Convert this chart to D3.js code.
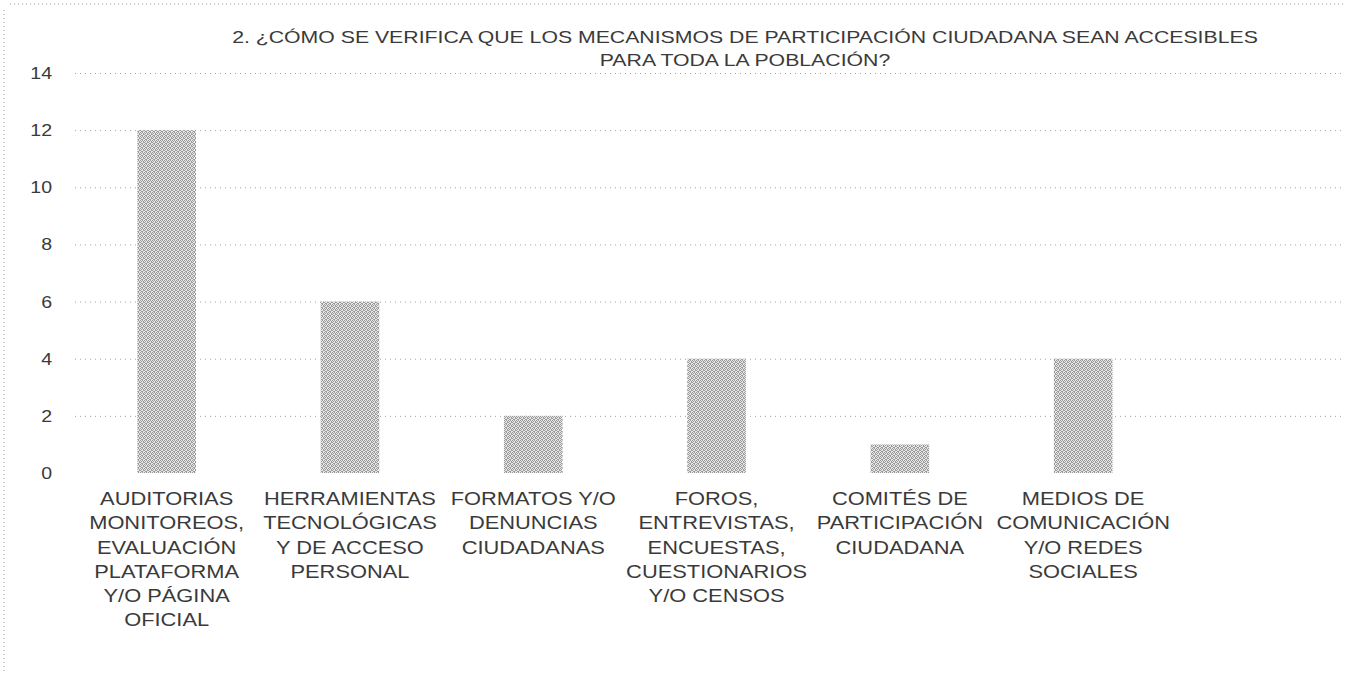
<!DOCTYPE html>
<html>
<head>
<meta charset="utf-8">
<script src="https://cdn.jsdelivr.net/npm/d3@7"></script>
<style>
  body { margin: 0; background: #fff; }
  svg text { font-family: "Liberation Sans", Arial, sans-serif; fill: #3a3a3a; }
</style>
</head>
<body>
<div id="chart"></div>
<script>
// chart data
var titleLines = [
  "2. ¿CÓMO SE VERIFICA QUE LOS MECANISMOS DE PARTICIPACIÓN CIUDADANA SEAN ACCESIBLES",
  "PARA TODA LA POBLACIÓN?"
];
var categories = [
  ["AUDITORIAS", "MONITOREOS,", "EVALUACIÓN", "PLATAFORMA", "Y/O PÁGINA", "OFICIAL"],
  ["HERRAMIENTAS", "TECNOLÓGICAS", "Y DE ACCESO", "PERSONAL"],
  ["FORMATOS Y/O", "DENUNCIAS", "CIUDADANAS"],
  ["FOROS,", "ENTREVISTAS,", "ENCUESTAS,", "CUESTIONARIOS", "Y/O CENSOS"],
  ["COMITÉS DE", "PARTICIPACIÓN", "CIUDADANA"],
  ["MEDIOS DE", "COMUNICACIÓN", "Y/O REDES", "SOCIALES"]
];
var values = [12, 6, 2, 4, 1, 4];
var yTicks = [0, 2, 4, 6, 8, 10, 12, 14];

(function(){
  var W = 1350, H = 674;
  var margin = {top: 73, left: 75, bottom: 201};
  var plotH = H - margin.top - margin.bottom;   // 400
  var gridRight = 1345;
  var stretch = 1.15;       // scanned text is a bit wide
  var titleStretch = 1.25;

  var svg = d3.select("#chart").append("svg")
              .attr("width", W)
              .attr("height", H);

  // stipple pattern for the bars
  var pat = svg.append("defs").append("pattern")
               .attr("id", "stipple")
               .attr("width", 4).attr("height", 4)
               .attr("patternUnits", "userSpaceOnUse");
  pat.append("rect").attr("width", 4).attr("height", 4).attr("fill", "#e8e8e8");
  [[0,0],[2,0],[1,1],[3,2],[0,2],[2,3],[1,3],[3,1]].forEach(function(p){
    pat.append("rect").attr("x", p[0]).attr("y", p[1])
       .attr("width", 1).attr("height", 1).attr("fill", "#9a9a9a");
  });

  // dotted frame (scan border)
  svg.append("path")
     .attr("d", "M10,4H1345M4,10V674")
     .attr("fill", "none")
     .attr("stroke", "#999")
     .attr("stroke-width", 1)
     .attr("stroke-dasharray", "1,3");

  var x = d3.scaleBand()
            .domain(d3.range(values.length))
            .range([margin.left, margin.left + 6 * 183.3])
            .paddingInner(0.68)
            .paddingOuter(0.34);

  var y = d3.scaleLinear()
            .domain([0, 14])
            .range([margin.top + plotH, margin.top]);

  // gridlines
  svg.append("g")
     .attr("class", "grid")
     .attr("transform", "translate(" + margin.left + ",0)")
     .call(d3.axisLeft(y)
             .tickValues(yTicks.filter(function(d){ return d > 0; }))
             .tickSize(-(gridRight - margin.left))
             .tickFormat(""))
     .call(function(g){
       g.select(".domain").remove();
       g.selectAll("line")
        .attr("stroke", "#a0a0a0")
        .attr("stroke-dasharray", "1,4");
     });

  // y axis labels
  svg.append("g")
     .attr("transform", "translate(" + margin.left + ",0)")
     .call(d3.axisLeft(y).tickValues(yTicks).tickSize(0).tickPadding(23))
     .call(function(g){
       g.select(".domain").remove();
       g.selectAll("text")
        .attr("x", 0)
        .attr("transform", "translate(-23,0) scale(" + stretch + ",1)")
        .style("font-size", "17px")
        .style("fill", "#3a3a3a");
     });

  // bars
  svg.selectAll(".bar")
     .data(values)
     .enter().append("rect")
     .attr("class", "bar")
     .attr("x", function(d, i){ return x(i); })
     .attr("y", function(d){ return y(d); })
     .attr("width", x.bandwidth())
     .attr("height", function(d){ return y(0) - y(d); })
     .attr("fill", "url(#stipple)");

  // category labels
  var labels = svg.selectAll(".cat")
     .data(categories)
     .enter().append("text")
     .attr("class", "cat")
     .attr("text-anchor", "middle")
     .attr("transform", function(d, i){
       return "translate(" + (x(i) + x.bandwidth() / 2) + "," + (y(0) + 32) + ") scale(" + stretch + ",1)";
     })
     .style("font-size", "19px");
  labels.selectAll("tspan")
     .data(function(d){ return d; })
     .enter().append("tspan")
     .attr("x", 0)
     .attr("y", function(d, i){ return i * 24.3; })
     .text(function(d){ return d; });

  // title
  var title = svg.append("text")
     .attr("text-anchor", "middle")
     .attr("transform", "translate(745,43) scale(" + titleStretch + ",1)")
     .style("font-size", "17px");
  title.selectAll("tspan")
     .data(titleLines)
     .enter().append("tspan")
     .attr("x", 0)
     .attr("y", function(d, i){ return i * 23; })
     .text(function(d){ return d; });
})();
</script>
</body>
</html>
